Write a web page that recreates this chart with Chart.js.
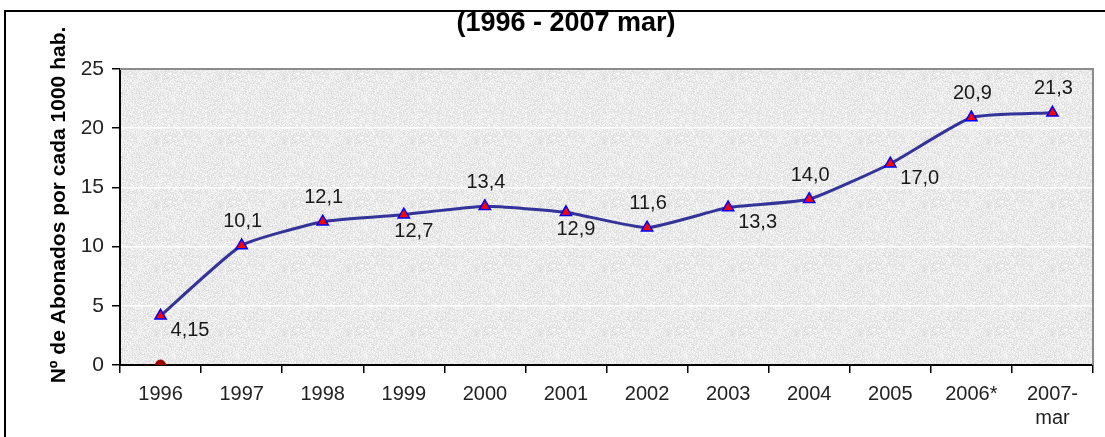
<!DOCTYPE html>
<html>
<head>
<meta charset="utf-8">
<script src="https://cdn.jsdelivr.net/npm/chart.js@4.4.1/dist/chart.umd.min.js"></script>
<style>
  body { margin: 0; background: #fff; overflow: hidden; }
  #frame { position: absolute; left: 4px; top: 10px; width: 1200px; height: 500px; border: 2px solid #000; }
  #wrap { position: absolute; left: 0; top: 0; width: 1105px; height: 437px; }
</style>
</head>
<body>
<div id="frame"></div>
<div id="wrap"><canvas id="myChart" width="1105" height="437"></canvas></div>
<script>
const years = ["1996", "1997", "1998", "1999", "2000", "2001", "2002", "2003", "2004", "2005", "2006*", ["2007-", "mar"]];
const subscribers = [4.15, 10.1, 12.1, 12.7, 13.4, 12.9, 11.6, 13.3, 14.0, 17.0, 20.9, 21.3];
const valueLabels = ["4,15", "10,1", "12,1", "12,7", "13,4", "12,9", "11,6", "13,3", "14,0", "17,0", "20,9", "21,3"];
const labelSide = ["belowRight", "above", "above", "below", "above", "below", "above", "belowRight", "above", "belowRight", "above", "above"];
const baseDot = [0, null, null, null, null, null, null, null, null, null, null, null];
const yTicks = [0, 5, 10, 15, 20, 25];

const FONT = "'Liberation Sans', Arial, sans-serif";

// speckled grey fill like the original plot area (hash noise, no Math.random)
function makeTexture() {
  const c = document.createElement("canvas");
  c.width = 64;
  c.height = 64;
  const g = c.getContext("2d");
  const img = g.createImageData(64, 64);
  for (let i = 0; i < 64 * 64; i++) {
    let h = (i * 2654435761) >>> 0;
    h = ((h ^ (h >>> 13)) * 1274126177) >>> 0;
    const v = 220 + ((h >>> 8) % 30);
    img.data[i * 4] = v;
    img.data[i * 4 + 1] = v;
    img.data[i * 4 + 2] = v;
    img.data[i * 4 + 3] = 255;
  }
  g.putImageData(img, 0, 0);
  return c;
}

const plotBackground = {
  id: "plotBackground",
  beforeDraw(chart) {
    const { ctx, chartArea: { left, top, width, height } } = chart;
    ctx.save();
    ctx.fillStyle = ctx.createPattern(makeTexture(), "repeat");
    ctx.fillRect(left, top, width, height);
    ctx.restore();
  },
  afterDatasetsDraw(chart) {
    const { ctx, chartArea: { left, top, right, bottom } } = chart;
    ctx.save();
    ctx.strokeStyle = "#8c8c8c";
    ctx.lineWidth = 2;
    ctx.beginPath();
    ctx.moveTo(left, top);
    ctx.lineTo(right, top);
    ctx.lineTo(right, bottom);
    ctx.stroke();
    ctx.restore();
  },
};

const titles = {
  id: "titles",
  afterDraw(chart) {
    const ctx = chart.ctx;
    ctx.save();
    ctx.font = "bold 27px " + FONT;
    ctx.fillStyle = "#000";
    ctx.textAlign = "center";
    ctx.textBaseline = "middle";
    ctx.fillText("(1996 - 2007 mar)", 566, 24);
    ctx.translate(59, 205);
    ctx.rotate(-Math.PI / 2);
    ctx.font = "bold 21px " + FONT;
    ctx.fillText("Nº de Abonados por cada 1000 hab.", 0, 0);
    ctx.restore();
  },
};

const pointLabels = {
  id: "pointLabels",
  afterDatasetsDraw(chart) {
    const ctx = chart.ctx;
    const meta = chart.getDatasetMeta(0);
    ctx.save();
    ctx.font = "20px " + FONT;
    ctx.fillStyle = "#1a1a1a";
    ctx.textBaseline = "middle";
    meta.data.forEach((pt, i) => {
      const side = labelSide[i];
      if (side === "above") {
        ctx.textAlign = "center";
        ctx.fillText(valueLabels[i], pt.x + 1, pt.y - 24);
      } else if (side === "below") {
        ctx.textAlign = "center";
        ctx.fillText(valueLabels[i], pt.x + 10, pt.y + 17);
      } else {
        ctx.textAlign = "left";
        ctx.fillText(valueLabels[i], pt.x + 10, pt.y + 15);
      }
    });
    ctx.restore();
  },
};

const config = {
  type: "line",
  data: {
    labels: years,
    datasets: [
      {
        data: subscribers,
        borderColor: "#333399",
        borderWidth: 3,
        tension: 0.15,
        pointStyle: "triangle",
        pointRadius: 6.5,
        pointHoverRadius: 6.5,
        pointBackgroundColor: "#ff0000",
        pointBorderColor: "#0000ff",
        pointBorderWidth: 1.5,
      },
      {
        data: baseDot,
        showLine: false,
        pointRadius: 5,
        pointBackgroundColor: "#990000",
        pointBorderColor: "#990000",
      },
    ],
  },
  options: {
    responsive: false,
    animation: false,
    layout: { padding: { top: 69, right: 12, left: 0, bottom: 0 } },
    plugins: { legend: { display: false }, tooltip: { enabled: false } },
    scales: {
      x: {
        offset: true,
        afterFit(scale) { scale.height = 72; },
        grid: { display: true, offset: true, drawOnChartArea: false, drawTicks: true, tickLength: 8, color: "#000", lineWidth: 1.5 },
        border: { display: true, color: "#000", width: 2 },
        ticks: { color: "#222", font: { size: 20, family: FONT }, padding: 9, maxRotation: 0, autoSkip: false },
      },
      y: {
        min: 0,
        max: 25,
        afterFit(scale) { scale.width = 120; },
        afterBuildTicks(scale) { scale.ticks = yTicks.map((v) => ({ value: v })); },
        grid: { color: "#ffffff", lineWidth: 1.5, drawTicks: true, tickLength: 8, tickColor: "#000" },
        border: { display: true, color: "#000", width: 2 },
        ticks: { color: "#222", font: { size: 21, family: FONT }, padding: 8 },
      },
    },
  },
  plugins: [plotBackground, titles, pointLabels],
};

const myChart = new Chart(document.getElementById("myChart"), config);
</script>
</body>
</html>
